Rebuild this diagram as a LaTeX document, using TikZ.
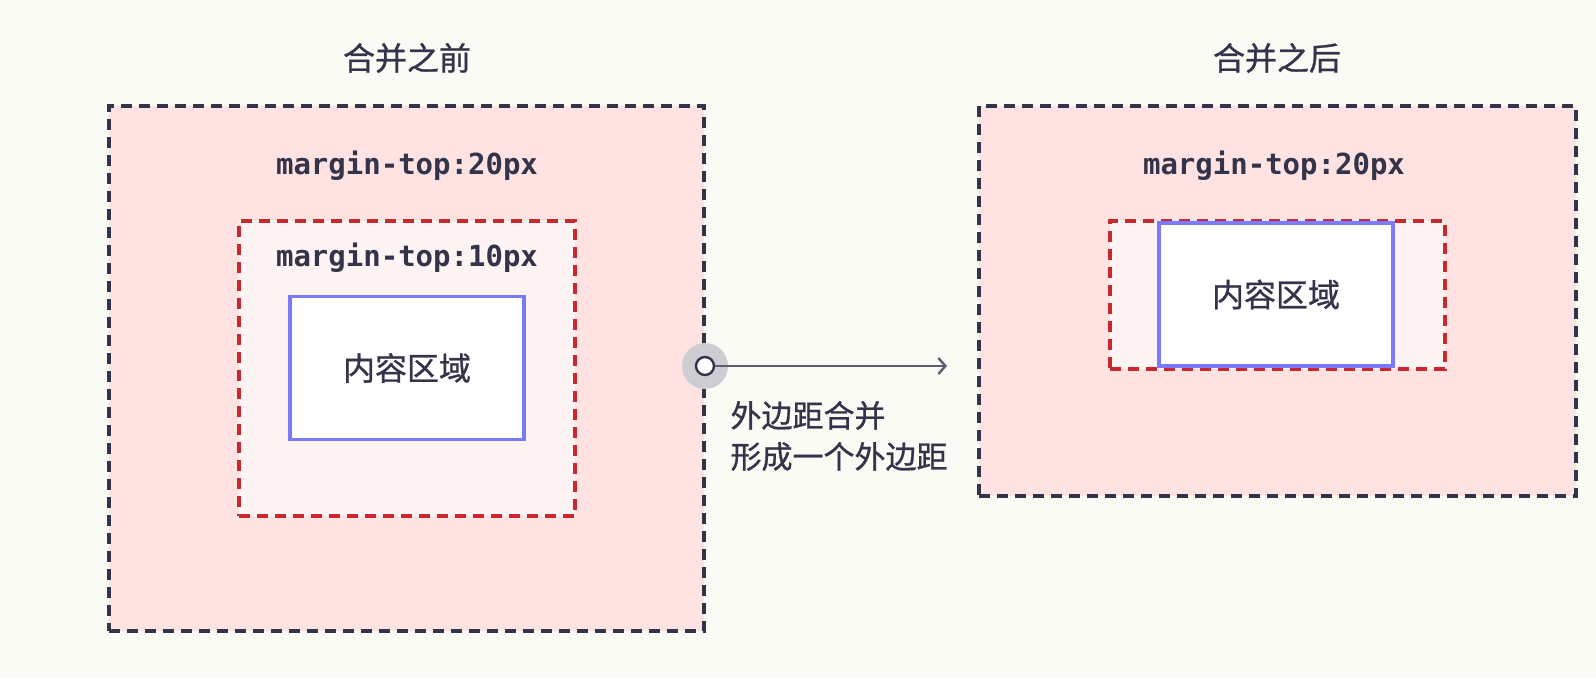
\documentclass[tikz,border=0pt]{standalone}
\usepackage{fontspec}
\usepackage{xcolor}
\usepackage{tikz}
\usetikzlibrary{arrows.meta}
\newfontfamily\cjk{Noto Sans CJK SC}[FakeBold=0.8]
\newfontfamily\codefont{DejaVu Sans Mono}
\definecolor{bg}{HTML}{FBFBF6}
\definecolor{outerbg}{HTML}{FFE3E3}
\definecolor{innerbg}{HTML}{FFF4F4}
\definecolor{ink}{HTML}{33334A}
\definecolor{redline}{HTML}{C8282E}
\definecolor{blueline}{HTML}{7A7AFF}
\definecolor{halo}{HTML}{CDCDD2}
\definecolor{linkc}{HTML}{5C5C70}
\tikzset{
  box/.style={inner sep=0pt, line width=3.6pt, dash pattern=on 11pt off 7pt},
  outerbox/.style={box, draw=ink, fill=outerbg},
  innerbox/.style={box, draw=redline, fill=innerbg},
  contentbox/.style={inner sep=0pt, draw=blueline, fill=white, line width=3.6pt,
    minimum width=234pt, minimum height=143pt},
  title/.style={text=ink, font=\cjk\fontsize{32}{38}\selectfont},
  css/.style={text=ink, font=\codefont\bfseries\fontsize{29}{34}\selectfont},
  note/.style={text=ink, font=\cjk\fontsize{31}{41}\selectfont, align=left},
  halodot/.style={circle, fill=halo, inner sep=0pt, minimum size=46pt},
  knob/.style={circle, draw=ink, fill=white, line width=2.4pt, inner sep=0pt, minimum size=18pt},
  link/.style={draw=linkc, line width=2.4pt, -{Straight Barb[length=7pt,width=16pt,line width=2.4pt]}}
}
\begin{document}
\begin{tikzpicture}[x=1pt,y=-1pt]
  \useasboundingbox[fill=bg] (0,0) rectangle (1596,678);
  % before merging
  \node[title] (titleL) at (407,58) {合并之前};
  \node[outerbox, minimum width=595pt, minimum height=525pt] (outerL) at (406.5,368.5) {};
  \node[css] (cssL20) at (407,166) {margin-top:20px};
  \node[innerbox, minimum width=336pt, minimum height=295pt] (innerL) at (407,368.5) {};
  \node[css] (cssL10) at (407,258) {margin-top:10px};
  \node[contentbox] (contentL) at (407,368) {};
  \node[title] at (contentL) {内容区域};
  % after merging
  \node[title] (titleR) at (1277,58) {合并之后};
  \node[outerbox, minimum width=597pt, minimum height=390pt] (outerR) at (1277.5,301) {};
  \node[css] (cssR20) at (1274,166) {margin-top:20px};
  \node[innerbox, minimum width=335pt, minimum height=148pt] (innerR) at (1277.5,295) {};
  \node[contentbox] (contentR) at (1276,294.5) {};
  \node[title] at (contentR) {内容区域};
  % merge arrow
  \node[halodot] (halo) at (705,366) {};
  \node[knob] (knobL) at (halo) {};
  \coordinate (tipR) at (947,366);
  \draw[link] (knobL) -- (tipR);
  \node[note, anchor=west] (noteL) at (727,436) {外边距合并\\形成一个外边距};
\end{tikzpicture}
\end{document}
